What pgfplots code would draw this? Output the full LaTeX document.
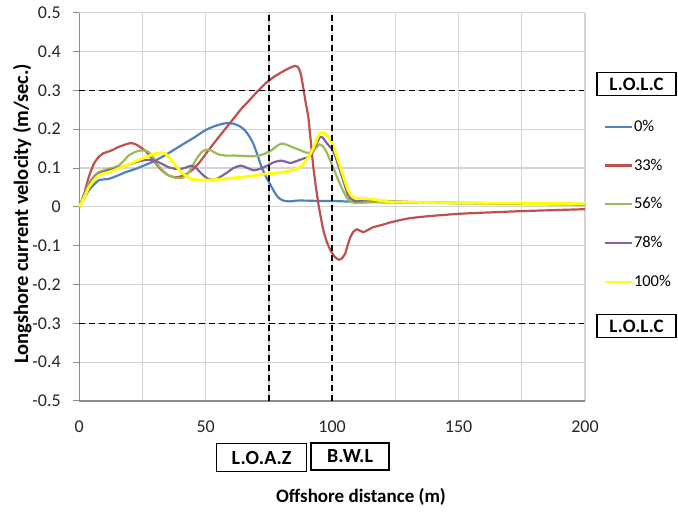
\documentclass[border=0pt]{standalone}
\usepackage{pgfplots}
\pgfplotsset{compat=1.18}
\usepackage{fontspec}
\setmainfont{Carlito}

\definecolor{cblue}{RGB}{79,129,189}
\definecolor{cred}{RGB}{192,80,77}
\definecolor{cgreen}{RGB}{155,187,89}
\definecolor{cpurple}{RGB}{128,100,162}
\definecolor{cyellow}{RGB}{255,255,0}
\definecolor{gridgray}{RGB}{212,212,212}
\definecolor{axgray}{RGB}{140,140,140}

\begin{document}
\begin{tikzpicture}[x=1pt,y=1pt]
\path[use as bounding box] (0,0) rectangle (678,516);
\begin{axis}[
  at={(79.3pt,115pt)}, anchor=south west,
  scale only axis, width=505.7pt, height=388.3pt,
  xmin=0, xmax=200, ymin=-0.5, ymax=0.5,
  xtick={0,50,100,150,200},
  minor xtick={25,75,125,175},
  ytick={-0.5,-0.4,-0.3,-0.2,-0.1,0,0.1,0.2,0.3,0.4,0.5},
  yticklabels={-0.5,-0.4,-0.3,-0.2,-0.1,0,0.1,0.2,0.3,0.4,0.5},
  xticklabels={0,50,100,150,200},
  grid=both,
  major grid style={gridgray, line width=1.2pt},
  minor grid style={gridgray, line width=1.2pt},
  axis lines=left,
  axis line style={-, axgray, line width=1.2pt},
  tick align=outside,
  xtick style={draw=none},
  minor tick length=0pt,
  ytick style={axgray, line width=1pt},
  major tick length=6pt,
  ticklabel style={font=\fontsize{18}{18}\selectfont, text=black!85},
  yticklabel style={xshift=-9pt},
  xticklabel style={yshift=-10pt},
  clip=false,
  xlabel={Offshore distance (m)},
  ylabel={Longshore current velocity (m/sec.)},
  xlabel style={at={(rel axis cs:0.557,0)}, anchor=center, yshift=-96pt, font=\bfseries\fontsize{19}{19}\selectfont},
  ylabel style={at={(rel axis cs:-0.1127,0.482)}, anchor=center, font=\bfseries\fontsize{20.5}{20.5}\selectfont},
  legend style={at={(rel axis cs:1.0356,0.726)}, anchor=north west, draw=none, fill=none,
    font=\fontsize{16.5}{16.5}\selectfont, inner sep=0pt, row sep=23.8pt,
    nodes={inner sep=1pt, text height=11pt, text depth=2pt}},
  legend cell align=left,
  legend image code/.code={\draw[#1] (0pt,0pt) -- (27pt,0pt);},
  every axis plot/.append style={smooth, tension=0.35, line width=2.2pt},
]
% 0%
\addplot[cblue] coordinates {
(0,0) (3.7,0.042) (7.6,0.068) (11.6,0.072) (15,0.08) (18.2,0.089) (22,0.097) (25.4,0.106) (29,0.116) (32.6,0.128) (36,0.141) (39.2,0.154) (42.5,0.167) (45.8,0.18) (49,0.194) (52,0.204) (55,0.211) (57.6,0.215) (60,0.215) (61.6,0.213) (63.6,0.207) (65.5,0.197) (67.2,0.182) (68.8,0.163) (70.5,0.133) (72.1,0.102) (73.8,0.078) (75.4,0.059) (77,0.04) (78.7,0.024) (80.7,0.016) (83,0.014) (86,0.016) (90,0.016) (95,0.015) (100,0.015) (105,0.014) (110,0.013) (120,0.012) (140,0.01) (170,0.008) (200,0.006)
};
% 33%
\addplot[cred] coordinates {
(0,0) (2,0.035) (3.7,0.076) (5.7,0.11) (7.6,0.128) (9.5,0.138) (10.9,0.141) (13,0.146) (15.5,0.154) (18,0.16) (20.1,0.164) (22,0.162) (24.1,0.154) (26.5,0.142) (28.7,0.124) (30.7,0.108) (32.6,0.094) (35,0.082) (37.9,0.076) (40,0.078) (42.5,0.085) (45,0.097) (47.1,0.111) (49,0.127) (51,0.145) (53.5,0.166) (56.3,0.189) (59,0.211) (61.6,0.232) (64,0.252) (66.8,0.271) (69,0.287) (71.5,0.304) (74,0.32) (76.8,0.334) (79,0.343) (82,0.354) (84,0.36) (85.4,0.363) (86.5,0.36) (87.5,0.345) (88.5,0.31) (89.5,0.27) (90.6,0.23) (91.6,0.165) (92.6,0.1) (93.6,0.05) (94.6,0.006) (95.6,-0.03) (96.6,-0.063) (98,-0.092) (99.2,-0.11) (100.8,-0.127) (102.5,-0.136) (103.8,-0.133) (105.1,-0.121) (106.1,-0.1) (107.1,-0.08) (108.4,-0.064) (109.8,-0.058) (111.2,-0.062) (112.4,-0.065) (114,-0.06) (116,-0.053) (117.7,-0.05) (120,-0.046) (122.5,-0.041) (125.6,-0.036) (130,-0.03) (135,-0.026) (140,-0.023) (150,-0.018) (160,-0.015) (175,-0.011) (190,-0.008) (200,-0.006)
};
% 56%
\addplot[cgreen] coordinates {
(0,0) (2,0.03) (3.7,0.059) (5.7,0.078) (7.6,0.089) (9.6,0.094) (11.6,0.098) (13.5,0.101) (15.5,0.106) (17.5,0.118) (19.5,0.132) (22,0.141) (24.1,0.145) (25.8,0.145) (27.4,0.141) (29.4,0.126) (31.3,0.106) (33.3,0.092) (35.3,0.081) (38,0.075) (40.5,0.074) (42.5,0.082) (44.5,0.102) (46.5,0.125) (48.4,0.141) (50,0.147) (51.5,0.147) (53,0.142) (55,0.135) (58,0.132) (61.6,0.132) (65,0.131) (68.2,0.13) (71,0.132) (73.4,0.137) (76,0.146) (78,0.156) (80,0.163) (82,0.16) (84.5,0.153) (87,0.147) (90,0.139) (92,0.142) (93.5,0.152) (95,0.161) (96.5,0.155) (98,0.138) (99.5,0.115) (101,0.092) (102.5,0.068) (104,0.046) (105.8,0.023) (107.8,0.012) (110,0.01) (115,0.012) (120,0.012) (130,0.011) (150,0.01) (175,0.008) (200,0.007)
};
% 78%
\addplot[cpurple] coordinates {
(0,0) (2,0.028) (3.7,0.055) (5.7,0.073) (7.6,0.085) (9.6,0.09) (11.6,0.094) (14.5,0.099) (18.2,0.106) (21.5,0.113) (24.7,0.119) (27.5,0.121) (30,0.119) (32.6,0.111) (35.3,0.102) (38,0.098) (40.5,0.098) (42.5,0.102) (44.5,0.106) (46.5,0.098) (48.4,0.085) (51,0.072) (53.7,0.07) (56,0.078) (58.6,0.089) (61,0.1) (63.9,0.106) (66.5,0.1) (69.1,0.094) (71.5,0.098) (74.3,0.106) (77,0.115) (80,0.119) (83.4,0.113) (86,0.118) (88.5,0.124) (90.5,0.128) (92.2,0.139) (93.8,0.162) (95.2,0.18) (96.3,0.178) (98,0.163) (100.5,0.143) (102.5,0.105) (104.5,0.065) (106,0.035) (107.1,0.023) (109,0.015) (111,0.016) (113.6,0.018) (117,0.016) (125,0.014) (140,0.011) (170,0.009) (200,0.007)
};
% 100%
\addplot[cyellow, line width=2.8pt] coordinates {
(0,0) (2,0.025) (3.7,0.05) (5.7,0.068) (7.6,0.081) (9.6,0.086) (11.6,0.089) (14.5,0.096) (18.2,0.106) (21.5,0.115) (24.7,0.124) (27.5,0.131) (30,0.137) (33.1,0.139) (34.8,0.133) (36.4,0.119) (38.5,0.103) (40.5,0.089) (42.5,0.078) (44.5,0.072) (47.5,0.069) (51,0.069) (54,0.07) (57.3,0.072) (62,0.075) (66.5,0.078) (70,0.081) (74.3,0.085) (78,0.087) (80.2,0.089) (83.5,0.093) (86,0.098) (87.8,0.105) (89.5,0.118) (91.3,0.135) (92.8,0.155) (94,0.175) (95.2,0.19) (96.3,0.19) (97.8,0.185) (99.2,0.176) (100.8,0.15) (102.5,0.118) (104.5,0.077) (106.4,0.042) (108,0.027) (109.8,0.022) (113,0.021) (116.3,0.019) (119.5,0.015) (122.9,0.013) (130,0.012) (150,0.01) (175,0.009) (200,0.008)
};
\legend{0\%,33\%,56\%,78\%,100\%}
% reference lines
\addplot[black, line width=1.4pt, dash pattern=on 6pt off 4pt, forget plot, sharp plot] coordinates {(0,0.3) (199.5,0.3)};
\addplot[black, line width=1.4pt, dash pattern=on 6pt off 4pt, forget plot, sharp plot] coordinates {(0,-0.3) (199.5,-0.3)};
\addplot[black, line width=1.4pt, dash pattern=on 6pt off 4pt, forget plot, sharp plot] coordinates {(75,-0.5) (75,0.5)};
\addplot[black, line width=1.4pt, dash pattern=on 6pt off 4pt, forget plot, sharp plot] coordinates {(100,-0.5) (100,0.5)};
% boxes
\node[draw=black, line width=1.6pt, fill=white, minimum width=79pt, minimum height=23pt, inner sep=0pt, font=\bfseries\fontsize{19}{19}\selectfont] at (axis cs:220.4,0.316) {L.O.L.C};
\node[draw=black, line width=1.6pt, fill=white, minimum width=79pt, minimum height=23pt, inner sep=0pt, font=\bfseries\fontsize{19}{19}\selectfont] at (axis cs:220.4,-0.307) {L.O.L.C};
\node[draw=black, line width=1.6pt, fill=white, minimum width=90pt, minimum height=28pt, inner sep=0pt, font=\bfseries\fontsize{20}{20}\selectfont] at (axis cs:72.1,-0.646) {L.O.A.Z};
\node[draw=black, line width=1.6pt, fill=white, minimum width=78pt, minimum height=27pt, inner sep=0pt, font=\bfseries\fontsize{20}{20}\selectfont] at (axis cs:107.1,-0.643) {B.W.L};
\end{axis}
\end{tikzpicture}
\end{document}
